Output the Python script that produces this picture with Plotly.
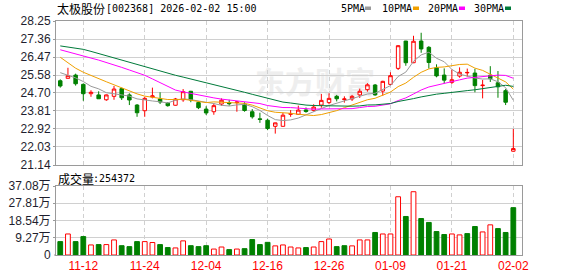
import plotly.graph_objects as go

# ---------------- data ----------------
dates = ["11-07","11-10","11-11","11-12","11-13","11-14","11-17","11-18","11-19","11-20",
         "11-21","11-24","11-25","11-26","11-27","11-28","12-01","12-02","12-03","12-04",
         "12-05","12-08","12-09","12-10","12-11","12-12","12-15","12-16","12-17","12-18",
         "12-19","12-22","12-23","12-24","12-25","12-26","12-29","12-30","12-31","01-05",
         "01-06","01-07","01-08","01-09","01-12","01-13","01-14","01-15","01-16","01-19",
         "01-20","01-21","01-22","01-23","01-26","01-27","01-28","01-29","01-30","02-02"]

opens  = [25.30,25.42,25.58,25.12,24.66,24.60,24.36,24.53,24.91,24.60,
          24.10,23.82,24.50,24.40,24.19,24.09,24.36,24.78,24.22,23.90,
          23.77,24.15,24.22,24.22,24.15,23.77,23.42,23.35,23.05,23.05,
          23.64,23.64,23.86,23.84,24.10,24.22,24.53,24.37,24.40,24.60,
          24.86,25.09,24.79,25.12,25.91,27.26,26.19,27.26,26.95,25.94,
          25.58,25.22,25.53,25.69,25.68,25.06,25.57,25.20,24.81,21.82]
highs  = [25.37,25.94,25.65,25.17,24.83,24.78,24.62,25.04,24.96,24.68,
          24.15,24.51,24.96,24.73,24.24,24.45,24.89,24.80,24.27,24.04,
          24.19,24.43,24.36,24.30,24.24,23.90,23.72,23.43,23.23,23.72,
          23.85,24.07,23.98,24.14,24.65,24.68,24.60,24.53,24.60,24.91,
          25.18,25.14,25.30,25.72,27.06,27.27,27.52,27.67,27.01,26.11,
          25.91,25.86,25.96,25.90,25.89,25.34,26.02,25.78,24.89,22.92]
lows   = [24.96,25.42,25.06,24.31,24.51,24.41,24.31,24.36,24.35,24.10,
          23.52,23.52,24.43,24.15,24.02,24.07,24.26,24.24,23.90,23.61,
          23.62,24.07,24.07,23.77,23.77,23.43,23.22,22.86,22.69,23.04,
          23.52,23.61,23.72,23.78,23.97,24.14,24.28,24.22,24.30,24.45,
          24.76,24.56,24.56,25.09,25.83,26.04,26.17,26.68,25.90,25.47,
          25.17,25.14,25.45,25.50,24.73,24.43,25.24,24.46,24.10,21.80]
closes = [25.04,25.55,25.15,24.66,24.73,24.41,24.60,24.89,24.46,24.35,
          23.72,24.43,24.55,24.25,24.07,24.40,24.76,24.35,23.97,23.71,
          24.07,24.34,24.17,24.25,23.83,23.52,23.39,22.94,23.22,23.60,
          23.68,23.85,23.78,24.00,24.33,24.43,24.41,24.40,24.53,24.78,
          25.10,24.60,25.27,25.55,27.03,26.19,27.25,26.87,26.20,25.54,
          25.33,25.35,25.72,25.71,25.06,25.08,25.40,25.00,24.24,21.95]

# volume in 万 (10k shares)
volumes = [7.2,11.3,7.2,9.9,5.4,5.6,5.6,8.1,5.0,4.5,
           7.2,7.2,6.7,5.6,4.0,3.8,7.6,5.0,4.5,5.0,
           3.2,4.3,2.9,3.2,3.4,8.3,5.6,6.8,4.9,5.4,
           4.3,3.8,4.0,4.3,7.2,8.6,4.5,5.0,4.9,8.1,
           8.1,12.1,11.3,11.3,31.3,20.7,34.0,19.6,17.5,12.6,
           11.0,11.3,10.8,11.5,15.3,12.4,16.2,14.2,12.1,25.4372]
vol_up = [0,1,0,0,1,0,1,1,0,0, 0,1,1,0,0,1,1,0,0,0,
          1,1,0,1,0,0,0,0,1,1, 1,1,0,1,1,1,0,0,1,1,
          1,0,1,1,1,0,1,0,0,0, 0,1,1,0,0,1,1,0,0,0]

ma5_lead  = [25.70,25.58,25.44,25.26]
ma10_lead = [26.46,26.18,25.92,25.72,25.55,25.40,25.25,25.10,24.95]
ma20_lead = [26.83,26.72,26.62,26.52,26.42,26.32,26.21,26.09,25.96,25.83,
             25.70,25.57,25.39,25.21,25.02,24.84,24.75,24.67,24.58]
ma30_lead = [27.02,26.97,26.91,26.85,26.75,26.64,26.53,26.43,26.32,26.21,
             26.11,26.00,25.89,25.78,25.68,25.57,25.48,25.39,25.30,25.21,
             25.12,25.02,24.93,24.83,24.73,24.63,24.53,24.43,24.33]

price_ticks = ["21.14","22.03","22.92","23.81","24.70","25.58","26.47","27.36","28.25"]
vol_tick_vals = [0, 9.27, 18.54, 27.81, 37.08]
vol_tick_text = ["0", "9.27万", "18.54万", "27.81万", "37.08万"]

title_name = "太极股份"
title_rest = "[002368] 2026-02-02 15:00"
vol_name = "成交量"
vol_last = ":254372"
ma_names = ["5PMA", "10PMA", "20PMA", "30PMA"]
ma_colors = ["#9a9a9a", "#f0a000", "#ff00ff", "#007a3a"]

# ---------------- helpers ----------------
W, H = 578, 276
ML, MR, MT, MB = 56, 56, 21, 21
PW, PH = W - ML - MR, H - MT - MB

def px_x(px):
    return (px - ML) / PW

def px_y(py):
    return (H - MB - py) / PH

def moving_average(n, lead):
    out = list(lead)
    for i in range(n - 1, len(closes)):
        out.append(sum(closes[i - n + 1:i + 1]) / n)
    return out

idx = list(range(len(dates)))
label_idx = idx[3::8]
label_txt = [dates[i] for i in label_idx]

RED = "#ff0000"
GREEN = "#008000"
GRID = "#d0d0d0"
BORDER = "#9a9a9a"
TICKCOL = "#1e1e2e"

fig = go.Figure()

fig.add_trace(go.Candlestick(
    x=idx, open=opens, high=highs, low=lows, close=closes,
    increasing=dict(line=dict(color=RED, width=1), fillcolor="#ffffff"),
    decreasing=dict(line=dict(color=GREEN, width=1), fillcolor=GREEN),
    whiskerwidth=0, xaxis="x", yaxis="y", hoverinfo="skip",
))

for n, lead, c in zip([5, 10, 20, 30], [ma5_lead, ma10_lead, ma20_lead, ma30_lead], ma_colors):
    fig.add_trace(go.Scatter(x=idx, y=moving_average(n, lead), mode="lines",
                             line=dict(color=c, width=1), xaxis="x", yaxis="y",
                             hoverinfo="skip"))

fig.add_trace(go.Bar(
    x=idx, y=volumes, width=0.62,
    marker=dict(color=["#ffffff" if u else GREEN for u in vol_up],
                line=dict(color=[RED if u else GREEN for u in vol_up], width=1)),
    xaxis="x2", yaxis="y2", hoverinfo="skip",
))

axis_common = dict(showline=True, linecolor=BORDER, linewidth=1, mirror=True,
                   zeroline=False, fixedrange=True, automargin=False)

fig.update_layout(
    width=W, height=H,
    margin=dict(l=ML, r=MR, t=MT, b=MB, pad=0, autoexpand=False),
    paper_bgcolor="#ffffff", plot_bgcolor="#ffffff",
    showlegend=False, boxgap=0.35,
    font=dict(family="Liberation Sans, Noto Sans CJK SC", size=12, color="#222222"),
    xaxis=dict(domain=[0, 1], anchor="y", range=[-0.555, 60.13],
               tickvals=label_idx, showticklabels=False, ticks="",
               showgrid=True, gridcolor=GRID, griddash="4px,3px", gridwidth=1,
               rangeslider=dict(visible=False), **axis_common),
    yaxis=dict(domain=[px_y(165), 1], anchor="x", range=[21.14, 28.25],
               tickvals=[float(t) for t in price_ticks], ticktext=price_ticks,
               ticks="outside", ticklen=2, tickcolor=BORDER,
               showgrid=True, gridcolor=GRID, gridwidth=1,
               tickfont=dict(family="Liberation Sans", size=12, color=TICKCOL),
               **axis_common),
    xaxis2=dict(domain=[0, 1], anchor="y2", matches="x", range=[-0.555, 60.13],
                tickvals=label_idx, ticktext=label_txt, ticks="",
                tickfont=dict(family="Liberation Sans", size=12, color=RED),
                showgrid=True, gridcolor=GRID, griddash="4px,3px", gridwidth=1,
                **axis_common),
    yaxis2=dict(domain=[0, px_y(186)], anchor="x2", range=[0, 37.08],
                tickvals=vol_tick_vals[1:], ticktext=vol_tick_text[1:],
                ticks="outside", ticklen=2, tickcolor=BORDER,
                showgrid=True, gridcolor=GRID, gridwidth=1,
                tickfont=dict(family="Liberation Sans, Noto Sans CJK SC", size=12, color=TICKCOL),
                **axis_common),
)

annotations = [
    dict(text=title_name, x=px_x(55), y=px_y(8.5), xanchor="left",
         font=dict(family="Noto Sans CJK SC", size=12, color="#000000")),
    dict(text=title_rest, x=px_x(104), y=px_y(8.5), xanchor="left",
         font=dict(family="DejaVu Sans Mono", size=10, color="#000000")),
    dict(text=vol_name, x=px_x(56), y=px_y(178), xanchor="left",
         font=dict(family="Noto Sans CJK SC", size=12, color="#000000")),
    dict(text=vol_last, x=px_x(91), y=px_y(178), xanchor="left",
         font=dict(family="DejaVu Sans Mono", size=10, color="#000000")),
    # baseline label of the volume axis
    dict(text=vol_tick_text[0], x=px_x(53), y=px_y(255), xanchor="right",
         font=dict(family="Liberation Sans", size=12, color=TICKCOL)),
]
legend_text_x = [339, 380, 426, 472]
legend_box_x = [365, 413, 459, 505]
shapes = []
for name, c, tx, bx in zip(ma_names, ma_colors, legend_text_x, legend_box_x):
    annotations.append(dict(text=name, x=px_x(tx), y=px_y(8.5), xanchor="left",
                            font=dict(family="DejaVu Sans Mono", size=10, color="#000000")))
    shapes.append(dict(type="rect", xref="paper", yref="paper",
                       x0=px_x(bx), x1=px_x(bx + 6), y0=px_y(10), y1=px_y(6.5),
                       fillcolor=c, line=dict(width=0)))
for a in annotations:
    a.update(xref="paper", yref="paper", yanchor="middle", showarrow=False)

shapes.append(dict(type="line", xref="paper", yref="paper",
                   x0=px_x(54), x1=px_x(56), y0=0, y1=0,
                   line=dict(color=BORDER, width=1)))

# faint watermark behind the candles
shapes.append(dict(type="rect", xref="paper", yref="paper", layer="below",
                   x0=px_x(235), x1=px_x(395), y0=px_y(100), y1=px_y(70),
                   fillcolor="rgba(0,0,0,0)", line=dict(width=0),
                   label=dict(text="东方财富", font=dict(family="Noto Sans CJK SC", size=30,
                                                      color="#eeeeee", weight="bold"),
                              textposition="middle center")))

fig.update_layout(annotations=annotations, shapes=shapes)

fig.write_html("out.html")
